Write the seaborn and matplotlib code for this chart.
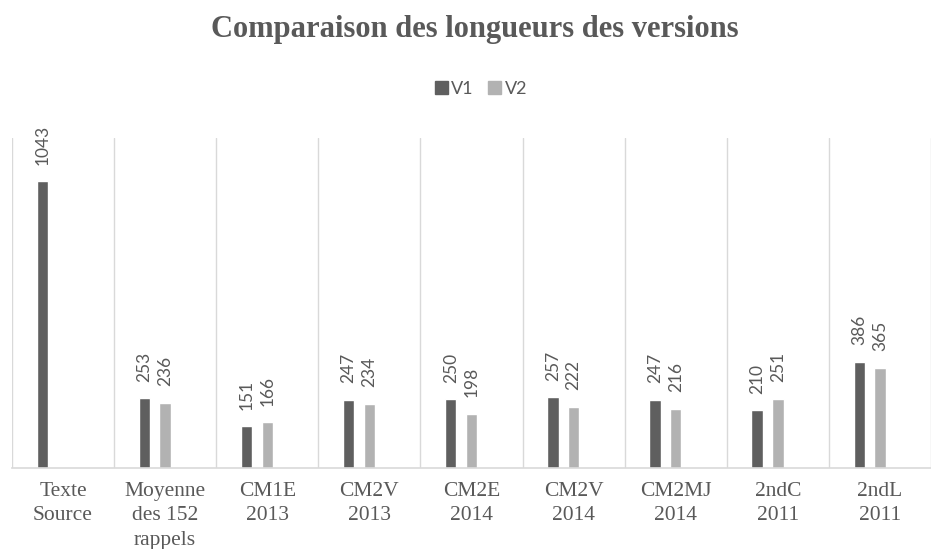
import matplotlib
matplotlib.use("Agg")
import matplotlib.pyplot as plt
import numpy as np
import pandas as pd
import seaborn as sns

# values
categories = ["Texte\nSource", "Moyenne\ndes 152\nrappels", "CM1E\n2013", "CM2V\n2013",
              "CM2E\n2014", "CM2V\n2014", "CM2MJ\n2014", "2ndC\n2011", "2ndL\n2011"]
v1 = [1043, 253, 151, 247, 250, 257, 247, 210, 386]
v2 = [np.nan, 236, 166, 234, 198, 222, 216, 251, 365]
series = ["V1", "V2"]
colors = ["#5f5f5f", "#b2b2b2"]
text_col = "#595959"

df = pd.DataFrame({
    "cat": categories * 2,
    "version": ["V1"] * len(categories) + ["V2"] * len(categories),
    "longueur": v1 + v2,
})

sns.set_style("white")

fig = plt.figure(figsize=(9.31, 5.49), dpi=100)
ax = fig.add_axes([12 / 931, 81 / 549, 919 / 931, 330 / 549])

sns.barplot(data=df, x="cat", y="longueur", hue="version", order=categories,
            hue_order=series, palette=colors, width=0.406, gap=0.45,
            saturation=1, ax=ax)

# shift bars so V2 sits on the category centre (as in the original)
for cont in ax.containers:
    for bar in cont:
        bar.set_x(bar.get_x() - 0.1015)
    ax.bar_label(cont, padding=12, rotation=90, fontsize=12.5,
                 color=text_col, family="Lato")

ax.set_xlim(-0.5, -0.5 + 919 / 103.3)
ax.set_ylim(0, 1200)
ax.set_yticks([])
ax.set_xlabel("")
ax.set_ylabel("")

# light separators between categories
ax.set_xticks(np.arange(-0.5, 9, 1), minor=True)
ax.grid(which="minor", axis="x", color="#d9d9d9", lw=1)
ax.grid(which="major", visible=False)
ax.tick_params(axis="x", which="both", length=0, pad=10)
for lab in ax.get_xticklabels():
    lab.set_family("Liberation Serif")
    lab.set_fontsize(15.5)
    lab.set_color(text_col)
    lab.set_linespacing(1.4)

for s in ["left", "top", "right"]:
    ax.spines[s].set_visible(False)
ax.spines["bottom"].set_color("#d9d9d9")
ax.spines["bottom"].set_linewidth(1.2)

ax.legend_.remove()
handles = [plt.Rectangle((0, 0), 1, 1, color=c) for c in colors]
fig.legend(handles, series, loc="center", bbox_to_anchor=(481 / 931, 1 - 89 / 549),
           ncol=2, frameon=False, handlelength=0.7, handleheight=0.7,
           handletextpad=0.2, columnspacing=0.8,
           prop={"family": "Lato", "size": 13}, labelcolor=text_col)

fig.text(475 / 931, 1 - 29 / 549, "Comparaison des longueurs des versions",
         ha="center", va="center", family="Liberation Serif", weight="bold",
         fontsize=22, color=text_col)

fig.savefig("out.png", dpi=100)
